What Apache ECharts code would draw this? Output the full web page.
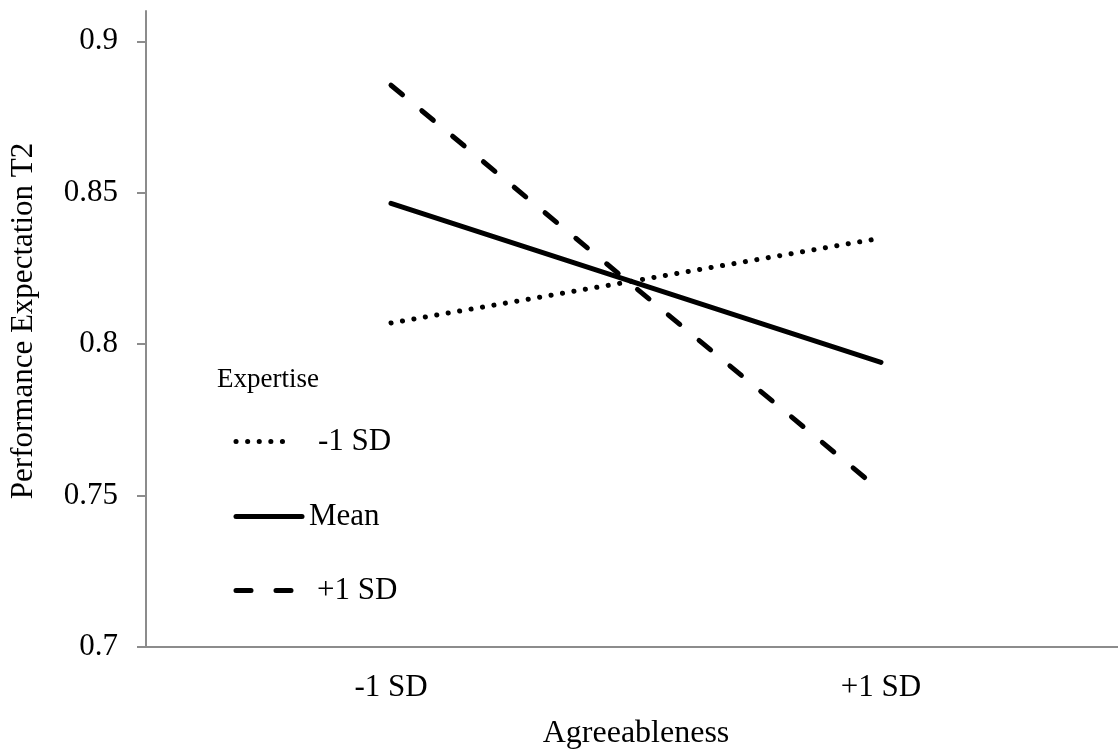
<!DOCTYPE html>
<html>
<head>
<meta charset="utf-8">
<script src="https://cdn.jsdelivr.net/npm/echarts@6/dist/echarts.min.js"></script>
<style>
  html, body { margin: 0; padding: 0; background: #fff; }
  #chart { width: 1118px; height: 752px; }
</style>
</head>
<body>
<div id="chart"></div>
<script>
var categories = ['-1 SD', '+1 SD'];
var lowExpertise = [0.807, 0.835];
var meanExpertise = [0.8465, 0.794];
var highExpertise = [0.8855, 0.7515];
var yTicks = [0.7, 0.75, 0.8, 0.85, 0.9];

var serif = "'Liberation Serif', 'Times New Roman', serif";
var axisGrey = '#8c8c8c';

var dotted = [0.1, 11.5];
var dashed = [15, 25];

var myChart = echarts.init(document.getElementById('chart'));

// one legend per entry so each keymark can have its own length
function legendFor(name, top, width, padLeft, dash) {
  return {
    data: [name],
    left: 233.5,
    top: top,
    padding: 0,
    itemWidth: width,
    itemHeight: 28,
    selectedMode: false,
    itemStyle: { opacity: 0 },
    lineStyle: { color: '#000', width: 5, type: dash, cap: 'round' },
    textStyle: {
      fontFamily: serif,
      fontSize: 31,
      color: '#000',
      padding: [0, 0, 0, padLeft]
    }
  };
}

option = {
  animation: false,
  title: {
    text: 'Expertise',
    left: 217,
    top: 366,
    padding: 0,
    textStyle: {
      fontFamily: serif,
      fontSize: 27,
      fontWeight: 'normal',
      color: '#000'
    }
  },
  legend: [
    legendFor('-1 SD', 426, 58, 19, dotted),
    legendFor('Mean', 501, 66, 2, 'solid'),
    legendFor('+1 SD', 575, 57, 19, dashed)
  ],
  grid: {
    left: 146,
    top: 11,
    width: 980,
    height: 636,
    outerBoundsMode: 'none'
  },
  xAxis: {
    type: 'category',
    data: categories,
    boundaryGap: true,
    name: 'Agreeableness',
    nameLocation: 'middle',
    nameGap: 71,
    nameTextStyle: { fontFamily: serif, fontSize: 32, color: '#000' },
    axisLine: { lineStyle: { color: axisGrey, width: 2 } },
    axisTick: { show: false },
    axisLabel: { fontFamily: serif, fontSize: 31, color: '#000', margin: 25 }
  },
  yAxis: {
    type: 'value',
    min: 0.7,
    max: 0.91,
    interval: 0.05,
    name: 'Performance Expectation T2',
    nameLocation: 'middle',
    nameGap: 107,
    nameTextStyle: {
      fontFamily: serif,
      fontSize: 31,
      color: '#000',
      padding: [0, 0, 0, 16]
    },
    splitLine: { show: false },
    axisLine: { show: true, lineStyle: { color: axisGrey, width: 2 } },
    axisTick: {
      show: true,
      length: 9,
      customValues: yTicks,
      lineStyle: { color: axisGrey, width: 2 }
    },
    axisLabel: {
      customValues: yTicks,
      fontFamily: serif,
      fontSize: 31,
      color: '#000',
      margin: 28
    }
  },
  series: [
    {
      name: '-1 SD',
      type: 'line',
      data: lowExpertise,
      symbol: 'none',
      lineStyle: { color: '#000', width: 5, type: dotted, cap: 'round' }
    },
    {
      name: 'Mean',
      type: 'line',
      data: meanExpertise,
      symbol: 'none',
      lineStyle: { color: '#000', width: 5, type: 'solid', cap: 'round' }
    },
    {
      name: '+1 SD',
      type: 'line',
      data: highExpertise,
      symbol: 'none',
      lineStyle: { color: '#000', width: 5, type: dashed, cap: 'round' }
    }
  ]
};

myChart.setOption(option);
</script>
</body>
</html>
